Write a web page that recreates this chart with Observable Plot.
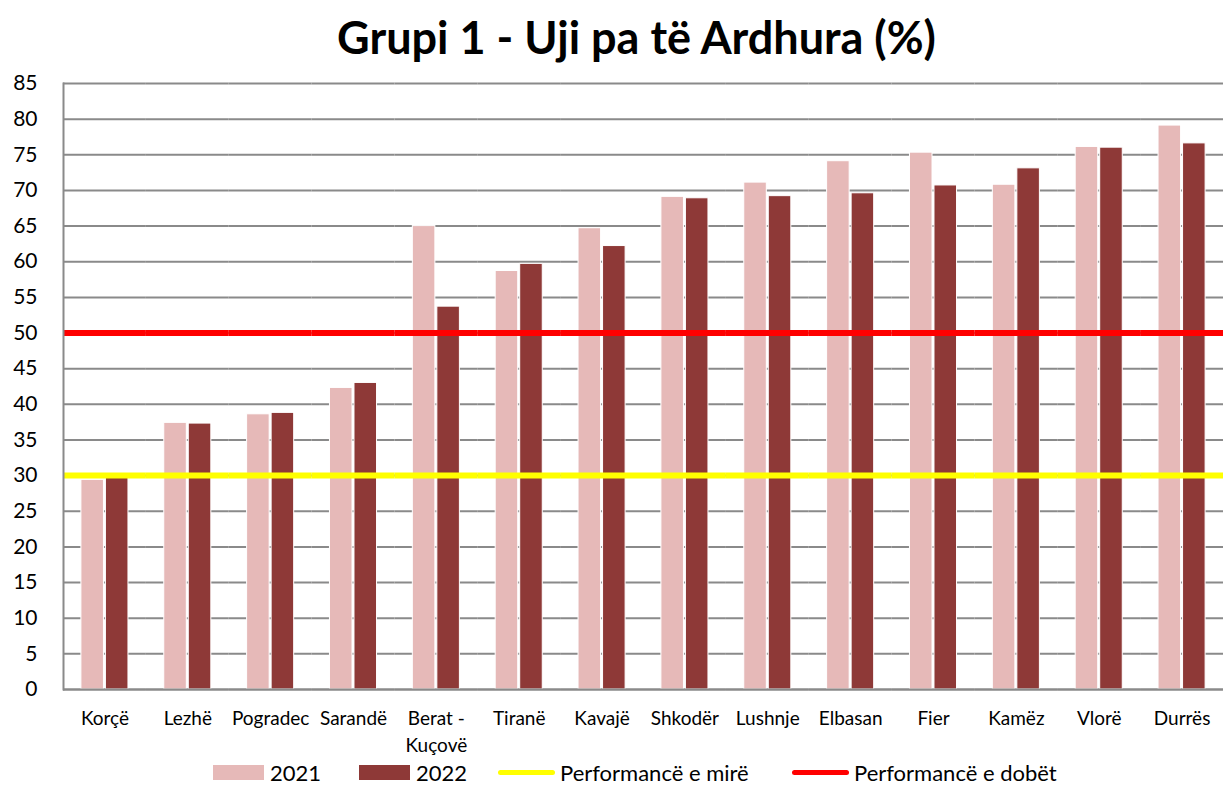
<!DOCTYPE html>
<html>
<head>
<meta charset="utf-8">
<script src="https://cdn.jsdelivr.net/npm/d3@7"></script>
<script src="https://cdn.jsdelivr.net/npm/@observablehq/plot@0.6"></script>
<style>
  html, body { margin: 0; padding: 0; background: #fff; }
  body { width: 1223px; height: 785px; overflow: hidden; font-family: "Lato", sans-serif; position: relative; }
  #title { height: 70px; padding-left: 50px; box-sizing: border-box; text-align: center; font-weight: bold; font-size: 45px; line-height: 74px; color: #000; }
  #legend { position: relative; height: 26px; font-size: 22px; color: #000; }
  .item { position: absolute; top: 0; height: 26px; display: flex; align-items: center; }
  .sw { display: inline-block; width: 51px; height: 15px; margin-right: 6px; }
  .ln { display: inline-block; width: 57px; height: 5px; border-radius: 3px; margin-right: 5px; }
</style>
</head>
<body>
<div id="title">Grupi 1 - Uji pa të Ardhura (%)</div>
<div id="chart"></div>
<div id="legend"></div>
<script>
const categories = ["Korçë","Lezhë","Pogradec","Sarandë","Berat - Kuçovë","Tiranë","Kavajë","Shkodër","Lushnje","Elbasan","Fier","Kamëz","Vlorë","Durrës"];
const years = ["2021","2022"];
const values2021 = [29.4, 37.4, 38.6, 42.3, 65.0, 58.7, 64.7, 69.1, 71.1, 74.1, 75.3, 70.8, 76.1, 79.1];
const values2022 = [29.9, 37.3, 38.8, 43.0, 53.7, 59.7, 62.2, 68.9, 69.2, 69.6, 70.7, 73.1, 76.0, 76.6];
const goodThreshold = [30];
const poorThreshold = [50];
const yTicks = d3.range(0, 90, 5);
const colors = {"2021": "#E6B9B8", "2022": "#8E3937"};
const legendLabels = ["2021", "2022", "Performancë e mirë", "Performancë e dobët"];

const rows = categories.flatMap((c, i) => [
  {cat: c, year: "2021", value: values2021[i]},
  {cat: c, year: "2022", value: values2022[i]}
]);

const chart = Plot.plot({
  width: 1223,
  height: 689,
  marginLeft: 63,
  marginRight: 0,
  marginTop: 13,
  marginBottom: 70,
  style: {fontFamily: "Lato, sans-serif", color: "#000", background: "#fff"},
  fx: {domain: categories, padding: 0, round: false, label: null, axis: null},
  x: {domain: years, axis: null, paddingInner: 0.08, paddingOuter: 0.73, round: false},
  y: {domain: [0, 85], ticks: yTicks, label: null, axis: null},
  color: {domain: years, range: [colors["2021"], colors["2022"]]},
  marks: [
    Plot.gridY(yTicks, {stroke: "#8a8a8a", strokeOpacity: 1, strokeWidth: 2}),
    Plot.barY(rows, {fx: "cat", x: "year", y: "value", fill: "year", stroke: "#fff", strokeWidth: 1}),
    Plot.ruleY(goodThreshold, {stroke: "#FFFF00", strokeWidth: 6}),
    Plot.ruleY(poorThreshold, {stroke: "#FF0000", strokeWidth: 6}),
    Plot.ruleY([0], {stroke: "#8a8a8a", strokeWidth: 2}),
    Plot.axisY({ticks: yTicks, tickSize: 0, tickPadding: 26, fontSize: 21, label: null}),
    Plot.axisFx({anchor: "bottom", tickSize: 0, tickPadding: 17, fontSize: 19, lineHeight: 1.4, label: null,
                 tickFormat: d => d === "Berat - Kuçovë" ? "Berat -\nKuçovë" : d}),
    Plot.frame({anchor: "left", stroke: "#8a8a8a", strokeWidth: 2, facet: "super"})
  ]
});
document.getElementById("chart").appendChild(chart);

const legend = document.getElementById("legend");
const items = [
  {type: "sw", color: colors["2021"], left: 213},
  {type: "sw", color: colors["2022"], left: 359},
  {type: "ln", color: "#FFFF00", left: 498},
  {type: "ln", color: "#FF0000", left: 792}
];
items.forEach((it, i) => {
  const d = document.createElement("div");
  d.className = "item";
  d.style.left = it.left + "px";
  const s = document.createElement("span");
  s.className = it.type;
  s.style.background = it.color;
  d.appendChild(s);
  const t = document.createElement("span");
  t.textContent = legendLabels[i];
  d.appendChild(t);
  legend.appendChild(d);
});
</script>
</body>
</html>
